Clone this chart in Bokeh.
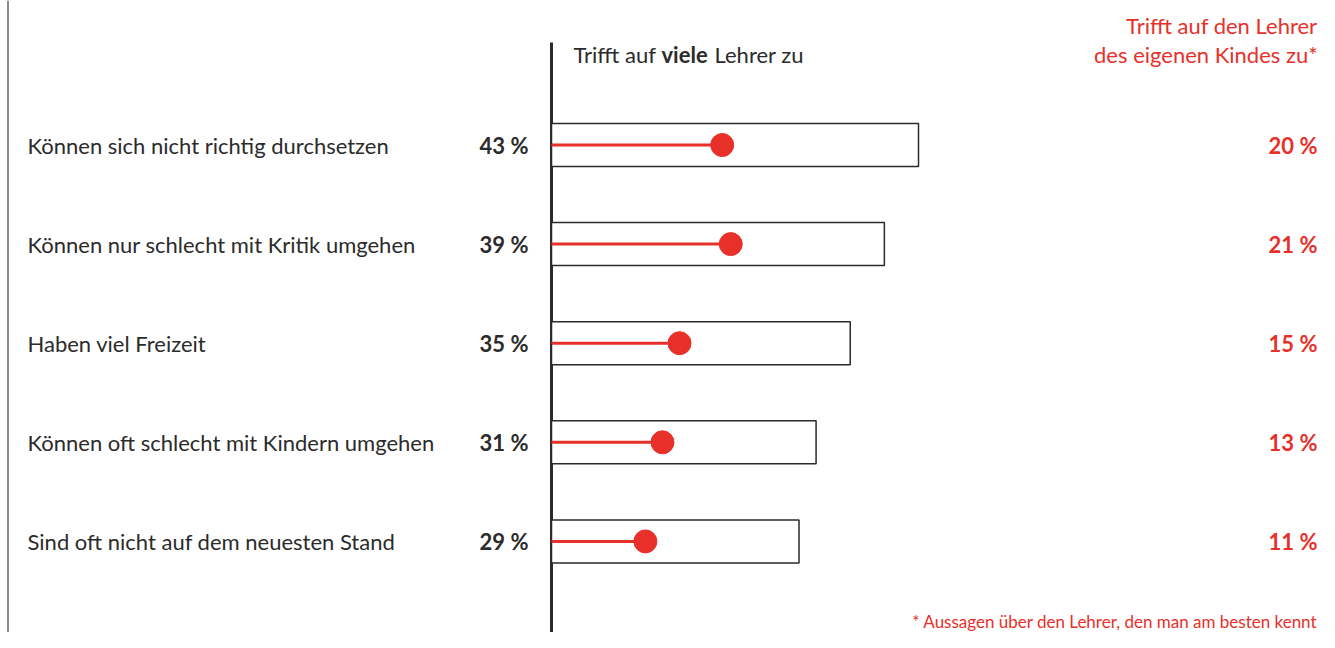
from bokeh.plotting import figure
from bokeh.models import Range1d, Span
from bokeh.core.properties import value
from bokeh.embed import file_html
from bokeh.resources import INLINE

# ---- data ----
categories = [
    "Können sich nicht richtig durchsetzen",
    "Können nur schlecht mit Kritik umgehen",
    "Haben viel Freizeit",
    "Können oft schlecht mit Kindern umgehen",
    "Sind oft nicht auf dem neuesten Stand",
]
viele = [43, 39, 35, 31, 29]          # Trifft auf viele Lehrer zu
eigenes = [20, 21, 15, 13, 11]        # Trifft auf den Lehrer des eigenen Kindes zu
viele_labels = [f"{v} %" for v in viele]
eigenes_labels = [f"{v} %" for v in eigenes]

# ---- layout ----
W, H = 1319, 632
PX = 8.535            # pixels per percent
X0 = 551              # pixel position of 0 %
RED = "#e8302a"
DARK = "#2b2b2b"
FONT = "Lato"
FS = "22px"
RIGHT = 1317

def px(x):
    return (x - X0) / PX

row_y = [144.5 + i * 99.1 for i in range(len(categories))]

p = figure(width=W, height=H, output_backend="svg", toolbar_location=None,
           x_range=Range1d(px(0), px(W)), y_range=Range1d(H, 0),
           min_border=0)
p.axis.visible = False
p.grid.visible = False
p.outline_line_color = None
p.background_fill_color = "white"
p.border_fill_color = "white"

# left frame line
p.add_layout(Span(location=px(7.5), dimension="height", line_color="#8a8a8a", line_width=2))
# zero axis line
p.segment(x0=[0], y0=[42], x1=[0], y1=[H], line_color=DARK, line_width=3)

# bars
p.hbar(y=row_y, left=0, right=viele, height=43, fill_color="white",
       line_color=DARK, line_width=1.5)
# lollipops
p.segment(x0=[0] * len(eigenes), y0=row_y, x1=eigenes, y1=row_y,
          line_color=RED, line_width=3)
p.scatter(x=eigenes, y=row_y, size=23, fill_color=RED, line_color=RED)

# category labels
p.text(x=[px(27)] * len(categories), y=row_y, text=categories,
       text_font=value(FONT), text_font_size=FS, text_color=DARK,
       text_align="left", text_baseline="middle")
# left percent labels
p.text(x=[px(528)] * len(viele), y=row_y, text=viele_labels,
       text_font=value(FONT), text_font_size=FS, text_font_style="bold",
       text_color=DARK, text_align="right", text_baseline="middle")
# right percent labels
p.text(x=[px(RIGHT)] * len(eigenes), y=row_y, text=eigenes_labels,
       text_font=value(FONT), text_font_size=FS, text_font_style="bold",
       text_color=RED, text_align="right", text_baseline="middle")

# header left
p.text(x=[px(573)], y=[54], text=["Trifft auf"], text_font=value(FONT),
       text_font_size=FS, text_color=DARK, text_align="left", text_baseline="middle")
p.text(x=[px(661)], y=[54], text=["viele"], text_font=value(FONT),
       text_font_size=FS, text_font_style="bold", text_color=DARK,
       text_align="left", text_baseline="middle")
p.text(x=[px(714)], y=[54], text=["Lehrer zu"], text_font=value(FONT),
       text_font_size=FS, text_color=DARK, text_align="left", text_baseline="middle")

# header right
p.text(x=[px(RIGHT), px(RIGHT)], y=[25, 54],
       text=["Trifft auf den Lehrer", "des eigenen Kindes zu*"],
       text_font=value(FONT), text_font_size=FS, text_color=RED,
       text_align="right", text_baseline="middle")

# footnote
p.text(x=[px(RIGHT)], y=[631],
       text=["* Aussagen über den Lehrer, den man am besten kennt"],
       text_font=value(FONT), text_font_size="17px", text_color=RED,
       text_align="right", text_baseline="bottom")

open("out.html", "w").write(file_html(p, INLINE))
